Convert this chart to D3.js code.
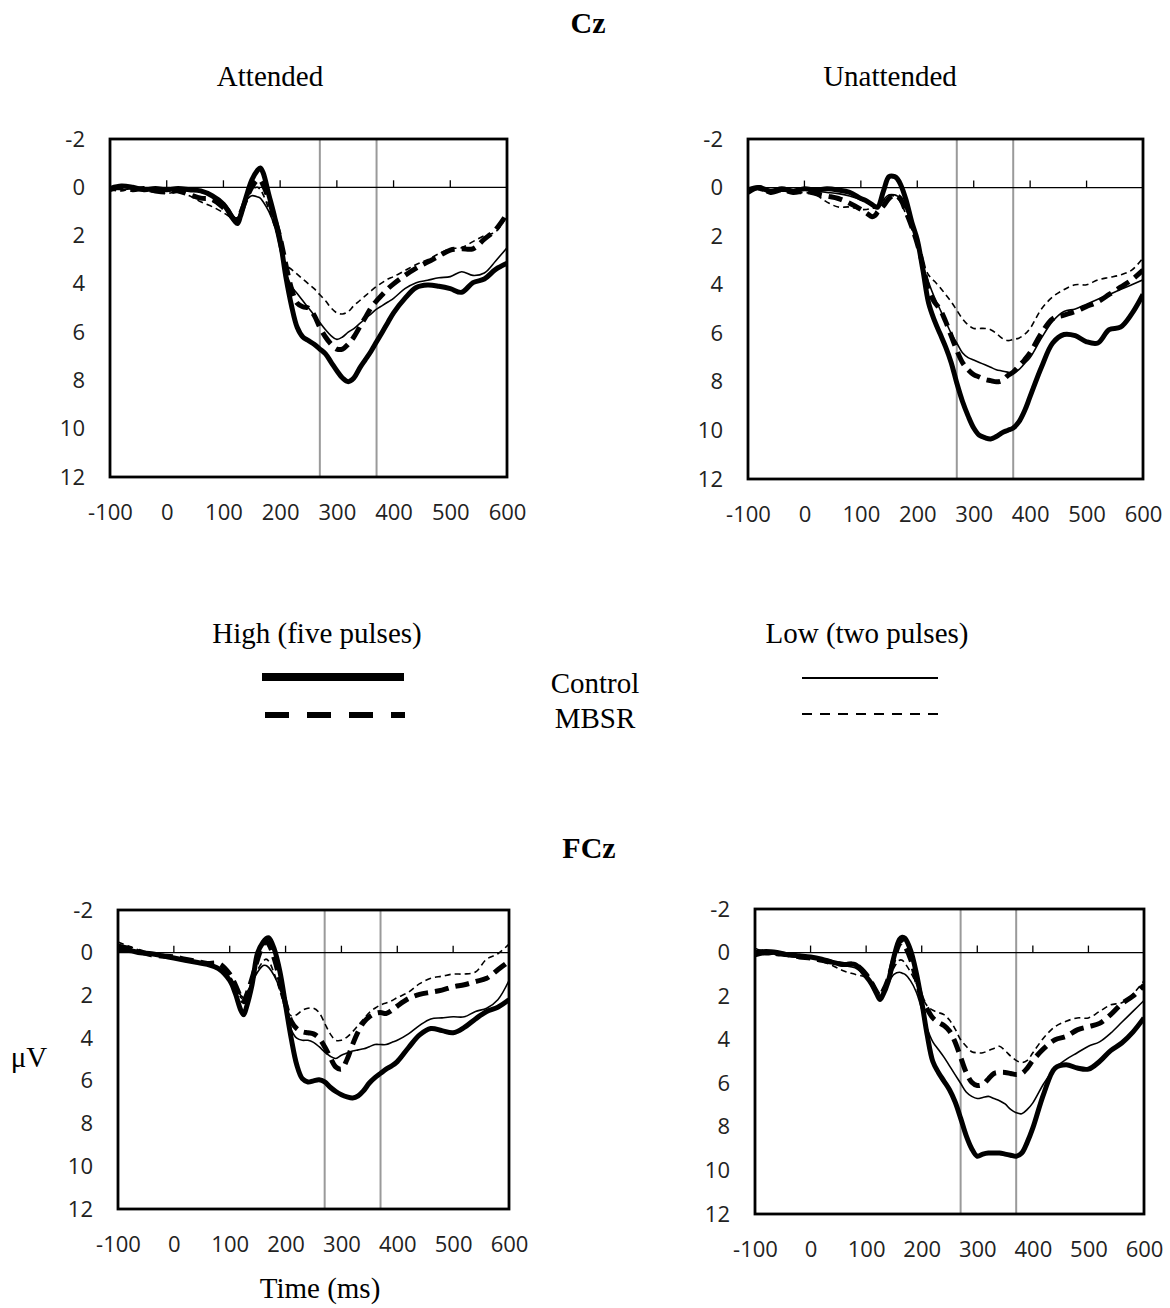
<!DOCTYPE html>
<html><head><meta charset="utf-8">
<script src="https://cdn.jsdelivr.net/npm/d3@7"></script>
<style>body{margin:0;background:#fff} svg{display:block}</style>
</head><body><svg id="chart" width="1170" height="1308"></svg>
<script>
// ---- data ----
const timeMs = [-100,-80,-60,-40,-20,0,20,40,60,80,100,110,120,125,130,140,150,160,165,170,180,190,200,210,220,230,240,250,260,270,280,290,300,310,320,330,340,350,360,370,380,390,400,420,440,460,480,500,520,540,560,580,600];
const yTickValues = [-2,0,2,4,6,8,10,12];
const xTickValues = [-100,0,100,200,300,400,500,600];
const zeroTickValues = [0,100,200,300,400,500];
const windowMs = [270,370];

// Cz Attended
const czAttCtrlHigh = [.05,-.05,0,.1,.05,.1,.05,.1,.15,.35, .7,1.05,1.4,1.5,1.2,.4,-.3,-.7,-.8,-.6,.3,1.2,2.2, 3.7,4.9,5.8,6.2,6.35,6.5,6.7,6.9,7.25,7.6,7.9,8.05,7.9,7.5,7.15,6.8,6.4,6.0,5.6,5.2, 4.6,4.15,4.05,4.1,4.2,4.35,3.95,3.8,3.4,3.15];
const czAttMbsrHigh = [.1,0,.1,.05,.15,.2,.15,.3,.45,.5, .85,1.1,1.35,1.4,1.1,.5,0,-.3,-.3,-.1,.5,1.3,2.1, 3.2,4.2,4.8,4.95,5.0,5.3,5.8,6.2,6.5,6.7,6.7,6.5,6.2,5.8,5.4,5.0,4.7,4.45,4.2,4.0, 3.65,3.35,3.1,2.85,2.6,2.55,2.55,2.15,1.75,1.1];
const czAttCtrlLow = [0,.1,.05,.1,.1,.15,.1,.1,.2,.35, .65,.9,1.25,1.25,1.0,.55,.35,.4,.45,.6,1.0,1.6,2.6, 3.5,4.1,4.4,4.7,5.0,5.3,5.6,5.9,6.15,6.3,6.2,6.0,5.85,5.65,5.45,5.25,5.05,4.9,4.75,4.6, 4.2,3.95,3.85,3.75,3.7,3.5,3.65,3.55,3.05,2.5];
const czAttMbsrLow = [.1,.15,.05,.15,.2,.25,.2,.35,.6,.8, 1.05,1.2,1.3,1.3,1.1,.6,.1,0,.1,.3,.9,1.6,2.3, 3.2,3.4,3.6,3.8,4.0,4.2,4.45,4.7,5.0,5.2,5.25,5.15,4.9,4.7,4.5,4.3,4.1,3.95,3.8,3.7, 3.45,3.2,3.0,2.75,2.55,2.5,2.25,2.0,1.85,1.15];

// Cz Unattended
const czUnaCtrlHigh = [.1,0,.15,.05,.15,.05,.1,.05,.1,.2, .45,.55,.7,.78,.8,.15,-.45,-.45,-.35,-.15,.5,1.4,2.15, 3.4,4.75,5.45,6.0,6.55,7.2,8.05,8.8,9.4,9.9,10.2,10.3,10.35,10.25,10.1,10.0,9.9,9.65,9.2,8.6, 7.4,6.4,6.05,6.1,6.35,6.4,5.85,5.75,5.2,4.4];
const czUnaMbsrHigh = [.2,0,.2,.1,.2,.15,.25,.35,.45,.65, .9,1.05,1.2,1.15,1.0,.75,.45,.3,.35,.45,1.0,1.6,2.3, 3.2,4.2,4.7,5.0,5.5,6.1,6.7,7.2,7.5,7.7,7.8,7.9,7.95,8.0,7.95,7.75,7.6,7.35,7.1,6.8, 6.0,5.4,5.25,5.1,4.9,4.7,4.4,4.1,3.8,3.4];
const czUnaCtrlLow = [.1,.05,.1,.15,.1,.1,.15,.2,.25,.35, .5,.6,.75,.8,.8,.5,.3,.3,.35,.45,.9,1.5,2.3, 3.2,3.9,4.5,5.0,5.5,6.0,6.4,6.8,7.0,7.1,7.2,7.3,7.4,7.5,7.55,7.6,7.65,7.5,7.25,7.0, 6.2,5.5,5.1,5.0,4.8,4.6,4.4,4.2,4.0,3.8];
const czUnaMbsrLow = [0,.1,.2,.1,.25,.2,.3,.6,.8,.8, .9,.9,.85,.85,.8,.55,.35,.35,.45,.6,1.1,1.7,2.4, 3.1,3.6,3.85,4.1,4.4,4.7,5.05,5.4,5.65,5.8,5.8,5.8,5.85,6.0,6.2,6.3,6.25,6.2,6.05,5.8, 5.0,4.5,4.2,4.0,4.0,3.8,3.7,3.6,3.4,2.9];

// FCz Attended
const fczAttCtrlHigh = [-.1,-.1,0,.05,.15,.25,.35,.45,.55,.75, 1.3,1.9,2.7,2.9,2.55,1.5,0,-.5,-.65,-.7,-.15,.9,2.45, 4.0,5.25,5.9,6.05,6.0,5.95,6.05,6.3,6.5,6.65,6.75,6.8,6.7,6.45,6.1,5.85,5.65,5.45,5.3,5.1, 4.45,3.85,3.55,3.65,3.75,3.5,3.1,2.75,2.55,2.2];
const fczAttMbsrHigh = [-.3,-.2,-.05,.1,.15,.2,.3,.4,.5,.5, 1.0,1.5,2.1,2.3,2.0,1.2,.3,-.4,-.5,-.4,.3,1.3,2.4, 3.2,3.55,3.7,3.75,3.8,4.0,4.4,4.9,5.35,5.45,5.0,4.3,3.7,3.25,3.0,2.85,2.8,2.85,2.7,2.5, 2.15,1.95,1.85,1.75,1.6,1.5,1.35,1.2,.8,.4];
const fczAttCtrlLow = [-.3,-.2,0,.05,.15,.25,.3,.45,.55,.75, 1.2,1.6,2.0,2.1,1.9,1.4,.9,.6,.6,.7,1.1,1.7,2.6, 3.6,4.0,4.1,4.1,4.2,4.4,4.65,4.85,4.95,4.8,4.7,4.6,4.55,4.5,4.4,4.3,4.3,4.3,4.2,4.1, 3.8,3.4,3.1,3.05,3.0,3.0,2.75,2.6,2.2,1.3];
const fczAttMbsrLow = [-.5,-.3,-.1,.05,.15,.25,.3,.45,.55,.8, 1.1,1.6,2.1,2.2,1.9,1.4,.8,.4,.3,.4,1.0,1.8,2.6, 2.95,2.9,2.7,2.6,2.6,2.8,3.3,3.8,4.1,4.1,3.95,3.7,3.4,3.1,2.8,2.6,2.45,2.35,2.25,2.1, 1.85,1.45,1.2,1.1,1.0,1.0,.9,.3,.05,-.4];

// FCz Unattended
const fczUnaCtrlHigh = [0,-.05,0,.1,.15,.2,.3,.45,.55,.55, 1.1,1.45,1.95,2.15,1.95,1.3,.2,-.6,-.7,-.65,-.1,.9,2.25, 3.8,5.0,5.5,5.9,6.3,6.85,7.6,8.4,9.0,9.35,9.25,9.2,9.2,9.2,9.25,9.3,9.35,9.2,8.7,8.05, 6.45,5.3,5.15,5.3,5.35,5.0,4.5,4.15,3.65,3.0];
const fczUnaMbsrHigh = [.1,0,.05,.1,.2,.25,.35,.45,.55,.55, 1.0,1.4,1.85,2.0,1.8,1.2,.3,-.4,-.5,-.3,.3,1.2,2.1, 2.6,3.0,3.2,3.35,3.6,4.1,4.8,5.5,5.95,6.1,6.05,5.8,5.55,5.5,5.5,5.55,5.6,5.55,5.3,4.95, 4.4,4.0,3.85,3.55,3.4,3.25,2.85,2.35,2.0,1.5];
const fczUnaCtrlLow = [0,.1,.05,.15,.2,.2,.35,.5,.6,.7, 1.1,1.4,1.85,2.0,1.85,1.4,1.0,.9,.95,1.0,1.3,1.8,2.6, 3.5,4.1,4.45,4.8,5.2,5.6,6.0,6.4,6.6,6.7,6.65,6.6,6.7,6.8,6.95,7.2,7.35,7.4,7.2,6.9, 6.0,5.3,4.9,4.6,4.3,4.1,3.7,3.2,2.7,2.2];
const fczUnaMbsrLow = [-.2,0,.1,.15,.1,.2,.4,.6,.85,1.0, 1.15,1.5,1.9,2.0,1.8,1.3,.7,.35,.35,.5,.9,1.4,2.0, 2.45,2.65,2.75,2.85,3.1,3.5,4.0,4.3,4.55,4.6,4.6,4.5,4.4,4.3,4.5,4.75,4.95,5.05,4.95,4.6, 3.9,3.4,3.15,3.0,3.0,2.7,2.4,2.3,1.9,1.3];

// ---- styles ----
const styles = {
  mbsrLow:  {w:1.6, dash:"6,4"},
  ctrlLow:  {w:1.6, dash:null},
  mbsrHigh: {w:5,   dash:"14,7"},
  ctrlHigh: {w:5,   dash:null}
};

const panels = [
  {l:110, r:507, t:139, b:477, series:{mbsrLow:czAttMbsrLow, ctrlLow:czAttCtrlLow, mbsrHigh:czAttMbsrHigh, ctrlHigh:czAttCtrlHigh}},
  {l:748, r:1143, t:139, b:479, series:{mbsrLow:czUnaMbsrLow, ctrlLow:czUnaCtrlLow, mbsrHigh:czUnaMbsrHigh, ctrlHigh:czUnaCtrlHigh}},
  {l:118, r:509, t:910, b:1209, series:{mbsrLow:fczAttMbsrLow, ctrlLow:fczAttCtrlLow, mbsrHigh:fczAttMbsrHigh, ctrlHigh:fczAttCtrlHigh}},
  {l:755, r:1144, t:909, b:1214, series:{mbsrLow:fczUnaMbsrLow, ctrlLow:fczUnaCtrlLow, mbsrHigh:fczUnaMbsrHigh, ctrlHigh:fczUnaCtrlHigh}}
];

const svg = d3.select("#chart");
const serif = "'Liberation Serif','Times New Roman',serif";
const sans = "'Open Sans','Noto Sans',sans-serif";
const fmt = d => String(d);

panels.forEach((p, i) => {
  const x = d3.scaleLinear().domain([-100,600]).range([p.l, p.r]);
  const y = d3.scaleLinear().domain([-2,12]).range([p.t, p.b]);
  const g = svg.append("g");
  const clipId = "clip" + i;
  g.append("clipPath").attr("id", clipId).append("rect")
    .attr("x", p.l).attr("y", p.t).attr("width", p.r - p.l).attr("height", p.b - p.t);

  // grey window lines
  g.selectAll("line.win").data(windowMs).enter().append("line")
    .attr("x1", d => x(d)).attr("x2", d => x(d)).attr("y1", p.t).attr("y2", p.b)
    .attr("stroke", "#9a9a9a").attr("stroke-width", 2);

  // zero line with upward ticks
  g.append("line").attr("x1", p.l).attr("x2", p.r).attr("y1", y(0)).attr("y2", y(0))
    .attr("stroke", "#000").attr("stroke-width", 1.3);
  g.selectAll("line.zt").data(zeroTickValues).enter().append("line")
    .attr("x1", d => x(d)).attr("x2", d => x(d)).attr("y1", y(0)).attr("y2", y(0) - 7)
    .attr("stroke", "#000").attr("stroke-width", 1.3);

  // curves
  const line = d3.line().x((d, k) => x(timeMs[k])).y(d => y(d)).curve(d3.curveCatmullRom.alpha(0.5));
  const cg = g.append("g").attr("clip-path", `url(#${clipId})`);
  ["mbsrLow","ctrlLow","mbsrHigh","ctrlHigh"].forEach(key => {
    const s = styles[key];
    cg.append("path").datum(p.series[key]).attr("d", line)
      .attr("fill", "none").attr("stroke", "#000").attr("stroke-width", s.w)
      .attr("stroke-linejoin", "round")
      .attr("stroke-dasharray", s.dash);
  });

  // frame
  g.append("rect").attr("x", p.l).attr("y", p.t).attr("width", p.r - p.l).attr("height", p.b - p.t)
    .attr("fill", "none").attr("stroke", "#000").attr("stroke-width", 2.8);

  // axes
  const ax = g.append("g").attr("transform", `translate(0,${p.b})`)
    .call(d3.axisBottom(x).tickValues(xTickValues).tickSize(0).tickPadding(27).tickFormat(fmt));
  const ay = g.append("g").attr("transform", `translate(${p.l},0)`)
    .call(d3.axisLeft(y).tickValues(yTickValues).tickSize(0).tickPadding(25).tickFormat(fmt));
  [ax, ay].forEach(a => {
    a.select(".domain").remove();
    a.selectAll("text").attr("font-family", sans).attr("font-size", 22).attr("fill", "#222");
  });
});

// ---- titles & labels ----
function txt(x, yb, s, size, weight, anchor) {
  svg.append("text").attr("x", x).attr("y", yb).text(s)
    .attr("font-family", serif).attr("font-size", size)
    .attr("font-weight", weight || "normal").attr("text-anchor", anchor || "middle").attr("fill", "#000");
}
txt(588, 33, "Cz", 30, "bold");
txt(270, 86, "Attended", 29);
txt(890, 86, "Unattended", 29);
txt(589, 858, "FCz", 30, "bold");
txt(29, 1067, "μV", 29);
txt(320, 1298, "Time (ms)", 29);

// ---- legend ----
const legendGroups = ["High (five pulses)", "Low (two pulses)"];
const legendRows = ["Control", "MBSR"];
txt(317, 643, legendGroups[0], 29);
txt(867, 643, legendGroups[1], 29);
txt(595, 693, legendRows[0], 29);
txt(595, 728, legendRows[1], 29);
const lg = svg.append("g");
lg.append("line").attr("x1", 262).attr("x2", 404).attr("y1", 677).attr("y2", 677)
  .attr("stroke", "#000").attr("stroke-width", 8);
lg.append("line").attr("x1", 265).attr("x2", 405).attr("y1", 715).attr("y2", 715)
  .attr("stroke", "#000").attr("stroke-width", 6).attr("stroke-dasharray", "24,18");
lg.append("line").attr("x1", 802).attr("x2", 938).attr("y1", 678).attr("y2", 678)
  .attr("stroke", "#000").attr("stroke-width", 2);
lg.append("line").attr("x1", 802).attr("x2", 938).attr("y1", 714).attr("y2", 714)
  .attr("stroke", "#000").attr("stroke-width", 2).attr("stroke-dasharray", "10,8");
</script>
</body></html>
